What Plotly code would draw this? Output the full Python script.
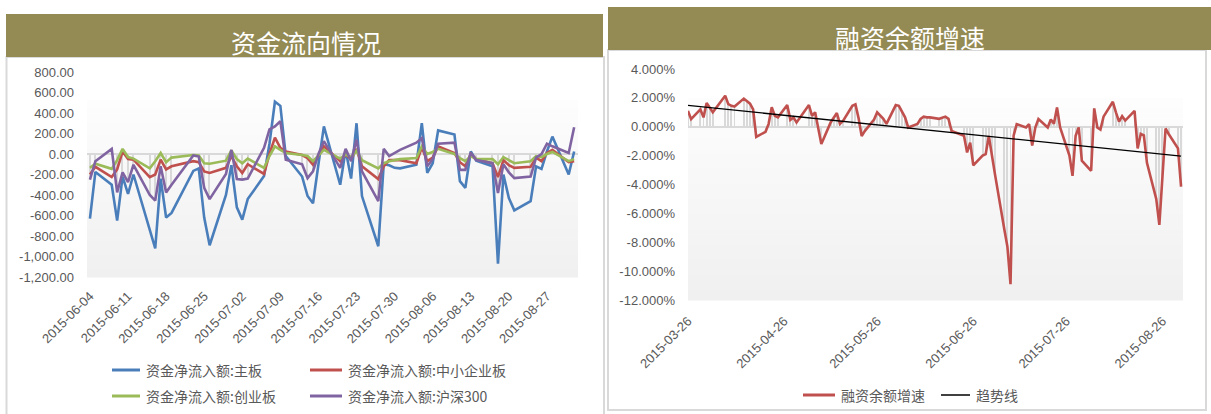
import plotly.graph_objects as go

# ---------------- data: left chart (资金流向情况) ----------------
dates_left = [
    '2015-06-04', '2015-06-05', '2015-06-08', '2015-06-09', '2015-06-10', '2015-06-11', '2015-06-12',
    '2015-06-15', '2015-06-16', '2015-06-17', '2015-06-18', '2015-06-19',
    '2015-06-23', '2015-06-24', '2015-06-25', '2015-06-26',
    '2015-06-29', '2015-06-30', '2015-07-01', '2015-07-02', '2015-07-03',
    '2015-07-06', '2015-07-07', '2015-07-08', '2015-07-09', '2015-07-10',
    '2015-07-13', '2015-07-14', '2015-07-15', '2015-07-16', '2015-07-17',
    '2015-07-20', '2015-07-21', '2015-07-22', '2015-07-23', '2015-07-24',
    '2015-07-27', '2015-07-28', '2015-07-29', '2015-07-30', '2015-07-31',
    '2015-08-03', '2015-08-04', '2015-08-05', '2015-08-06', '2015-08-07',
    '2015-08-10', '2015-08-11', '2015-08-12', '2015-08-13', '2015-08-14',
    '2015-08-17', '2015-08-18', '2015-08-19', '2015-08-20', '2015-08-21',
    '2015-08-24', '2015-08-25', '2015-08-26', '2015-08-27', '2015-08-28',
    '2015-08-31', '2015-09-01']

main_board = [
    -630, -175, -300, -650, -220, -390, -200,
    -740, -920, -240, -620, -575,
    -165, -140, -620, -890,
    -400, -110, -520, -640, -440,
    -215, 100, 510, 470, -20,
    -220, -410, -480, -100, 270,
    -300, 40, -240, 300, -410,
    -900, -100, -110, -135, -140,
    -105, 300, -185, -90, 230,
    190, -265, -330, 25, -65,
    -120, -1070, -200, -430, -550,
    -460, -120, -145, 25, 170,
    -200, 25]

sme_board = [
    -200, -125, -225, -150, 25, -50, -55,
    -225, -200, -55, -150, -120,
    -70, -80, -170, -185,
    -135, -20, -120, -185, -100,
    -195, 0, 160, 60, 25,
    -10, -40, -105, -10, 75,
    -70, -5, -50, 50, -120,
    -245, -120, -60, -60, -60,
    -90, 65, -70, -35, 75,
    10, -80, -120, 0, -50,
    -90, -225, -60, -110, -135,
    -125, -35, -70, 10, 40,
    -80, -70]

gem_board = [
    -135, -95, -145, -60, 50, -30, -45,
    -140, -70, 10, -80, -35,
    -10, -15, -90, -95,
    -65, 35, -50, -90, -45,
    -135, -20, 75, 40, 10,
    -10, -20, -70, -10, 40,
    -45, -5, -30, 30, -60,
    -140, -90, -70, -60, -50,
    -40, 75, 0, 20, 50,
    0, -40, -70, -20, -50,
    -50, -100, -30, -60, -90,
    -70, -20, -30, 0, 20,
    -70, -50]

hs300 = [
    -250, -70, 50, -375, -180, -275, -105,
    -400, -455, -120, -375, -300,
    -15, -25, -330, -440,
    -195, 40, -245, -250, -240,
    60, 240, 270, 320, -55,
    -100, -235, -170, 0, 125,
    -135, 50, -70, 140, -170,
    -460, 50, -20, 10, 40,
    110, 155, -120, -50, 100,
    110, -155, -155, 10, -60,
    -90, -380, -100, -180, -235,
    -220, -35, 0, 100, 75,
    10, 260]

# faint grey columns in the background of the left chart
grey_left = [
    -250, -70, 0, -375, -180, -275, -105,
    -400, -455, -120, -375, -300,
    -15, -25, -330, -440,
    -195, 0, -245, -250, -240,
    0, 0, 0, 0, -55,
    -100, -235, -170, 0, 0,
    -135, 0, -70, 0, -170,
    -460, 0, -20, 0, 0,
    0, 0, -120, -50, 0,
    0, -155, -155, 0, -60,
    -90, -380, -100, -180, -235,
    -220, -35, 0, 0, 0,
    0, 0]

left_tick_dates = ['2015-06-04', '2015-06-11', '2015-06-18', '2015-06-25', '2015-07-02',
                   '2015-07-09', '2015-07-16', '2015-07-23', '2015-07-30', '2015-08-06',
                   '2015-08-13', '2015-08-20', '2015-08-27']
left_tick_labels = left_tick_dates
left_y_vals = [800, 600, 400, 200, 0, -200, -400, -600, -800, -1000, -1200]
left_y_text = ['800.00', '600.00', '400.00', '200.00', '0.00', '-200.00', '-400.00',
               '-600.00', '-800.00', '-1,000.00', '-1,200.00']
left_names = ['资金净流入额:主板', '资金净流入额:中小企业板', '资金净流入额:创业板', '资金净流入额:沪深300']

# ---------------- data: right chart (融资余额增速) ----------------
dates_right = [
    '2015-03-26', '2015-03-27', '2015-03-30', '2015-03-31',
    '2015-04-01', '2015-04-02', '2015-04-03', '2015-04-07', '2015-04-08', '2015-04-09', '2015-04-10',
    '2015-04-13', '2015-04-14', '2015-04-15', '2015-04-16', '2015-04-17',
    '2015-04-20', '2015-04-21', '2015-04-22', '2015-04-23', '2015-04-24',
    '2015-04-27', '2015-04-28', '2015-04-29', '2015-04-30',
    '2015-05-04', '2015-05-05', '2015-05-06', '2015-05-07', '2015-05-08',
    '2015-05-11', '2015-05-12', '2015-05-13', '2015-05-14', '2015-05-15',
    '2015-05-18', '2015-05-19', '2015-05-20', '2015-05-21', '2015-05-22',
    '2015-05-25', '2015-05-26', '2015-05-27', '2015-05-28', '2015-05-29',
    '2015-06-01', '2015-06-02', '2015-06-03', '2015-06-04', '2015-06-05',
    '2015-06-08', '2015-06-09', '2015-06-10', '2015-06-11', '2015-06-12',
    '2015-06-15', '2015-06-16', '2015-06-17', '2015-06-18', '2015-06-19',
    '2015-06-23', '2015-06-24', '2015-06-25', '2015-06-26',
    '2015-06-29', '2015-06-30', '2015-07-01', '2015-07-02', '2015-07-03',
    '2015-07-06', '2015-07-07', '2015-07-08', '2015-07-09', '2015-07-10',
    '2015-07-13', '2015-07-14', '2015-07-15', '2015-07-16', '2015-07-17',
    '2015-07-20', '2015-07-21', '2015-07-22', '2015-07-23', '2015-07-24',
    '2015-07-27', '2015-07-28', '2015-07-29', '2015-07-30', '2015-07-31',
    '2015-08-03', '2015-08-04', '2015-08-05', '2015-08-06', '2015-08-07',
    '2015-08-10', '2015-08-11', '2015-08-12', '2015-08-13', '2015-08-14',
    '2015-08-17', '2015-08-18', '2015-08-19', '2015-08-20', '2015-08-21',
    '2015-08-24', '2015-08-25', '2015-08-26', '2015-08-27', '2015-08-28',
    '2015-08-31', '2015-09-01']

margin_growth = [
    1.10, 0.53, 1.20, 0.65,
    1.65, 1.30, 1.00, 2.15, 1.57, 1.45, 1.40,
    1.95, 1.80, 1.60, 1.20, -0.70,
    -0.35, 0.20, 1.35, 0.75, 0.65,
    1.50, 0.48, 0.65, 0.30,
    1.50, 0.75, 1.00, -0.10, -1.20,
    0.30, 0.65, 0.95, 0.20, 0.40,
    1.45, 1.55, 0.60, -0.65, -0.30,
    0.50, 1.00, 0.75, 0.55, 0.20,
    1.50, 1.45, 1.00, 0.65, -0.05,
    0.20, 0.55, 0.70, 0.65, 0.65,
    0.55, 0.60, 0.70, 0.55, -0.30,
    -0.62, -1.78, -1.10, -2.67,
    -2.00, -1.90, -0.64, -2.00, -3.30,
    -7.10, -8.30, -10.90, -0.62, 0.18,
    -0.05, 0.18, -1.30, -0.05, 0.53,
    -0.05, 0.50, 0.20, 1.34, -0.05,
    -2.00, -3.40, -0.62, -0.05, -2.35,
    -3.05, 1.27, -0.05, -0.20, 0.70,
    1.73, 1.00, 0.35, 0.73, 0.43,
    1.10, -1.50, -0.50, -0.60, -2.50,
    -5.00, -6.80, -3.50, -0.12, -0.50,
    -1.50, -4.15]

trend_dates = ['2015-03-26', '2015-09-01']
trend_values = [1.48, -2.03]

right_tick_dates = ['2015-03-26', '2015-04-26', '2015-05-26', '2015-06-26', '2015-07-26', '2015-08-26']
right_tick_labels = right_tick_dates
right_y_vals = [4, 2, 0, -2, -4, -6, -8, -10, -12]
right_y_text = ['4.000%', '2.000%', '0.000%', '-2.000%', '-4.000%', '-6.000%', '-8.000%',
                '-10.000%', '-12.000%']
right_names = ['融资余额增速', '趋势线']

titles = ['资金流向情况', '融资余额增速']

# ---------------- styling ----------------
W, H = 1211, 414
def px(x):
    return x / W
def py(y):
    return 1 - y / H

BLUE, RED, GREEN, PURPLE = '#4A7EBB', '#C0504D', '#9BBB59', '#8064A2'
OLIVE = '#948A54'
TXT = '#595959'
NUMFONT = 'Liberation Sans, Arial, sans-serif'
CJK = 'Noto Sans CJK SC, sans-serif'
DAY_MS = 86400000

fig = go.Figure()

# left chart
fig.add_trace(go.Bar(x=dates_left, y=grey_left, width=0.25 * DAY_MS, marker=dict(color='#D9D9D9', line=dict(width=0)),
                     xaxis='x', yaxis='y', showlegend=False, hoverinfo='skip'))
for vals, col, name in zip([main_board, sme_board, gem_board, hs300], [BLUE, RED, GREEN, PURPLE], left_names):
    fig.add_trace(go.Scatter(x=dates_left, y=vals, mode='lines', name=name,
                             line=dict(color=col, width=2.6), xaxis='x', yaxis='y', showlegend=False))

# right chart
fig.add_trace(go.Bar(x=dates_right, y=margin_growth, width=0.3 * DAY_MS, marker=dict(color='#D9D9D9', line=dict(width=0)),
                     xaxis='x2', yaxis='y2', showlegend=False, hoverinfo='skip'))
fig.add_trace(go.Scatter(x=dates_right, y=margin_growth, mode='lines', name=right_names[0],
                         line=dict(color=RED, width=2.6), xaxis='x2', yaxis='y2', showlegend=False))
fig.add_trace(go.Scatter(x=trend_dates, y=trend_values, mode='lines', name=right_names[1],
                         line=dict(color='#000000', width=1.3), xaxis='x2', yaxis='y2', showlegend=False))

shapes = []
annotations = []

# panel frames
shapes.append(dict(type='rect', xref='paper', yref='paper', x0=px(6.5), x1=px(604), y0=py(420), y1=py(57),
                   line=dict(color='#D9D9D9', width=2), fillcolor='white', layer='below'))
shapes.append(dict(type='rect', xref='paper', yref='paper', x0=px(608), x1=px(1206), y0=py(410), y1=py(50),
                   line=dict(color='#D9D9D9', width=2), fillcolor='white', layer='below'))

# gradient plot backgrounds
def gradient(x0, x1, ytop, ybot, n=40, c0=(253, 253, 253), c1=(240, 240, 240)):
    h = (ybot - ytop) / n
    for i in range(n):
        t = i / (n - 1)
        c = tuple(int(round(c0[k] + (c1[k] - c0[k]) * t)) for k in range(3))
        shapes.append(dict(type='rect', xref='paper', yref='paper', x0=px(x0), x1=px(x1),
                           y0=py(ytop + (i + 1) * h + 0.5), y1=py(ytop + i * h),
                           line=dict(width=0), fillcolor='rgb(%d,%d,%d)' % c, layer='below'))

gradient(87, 578, 100, 277)
gradient(688, 1183, 98, 300)

# title bars
shapes.append(dict(type='rect', xref='paper', yref='paper', x0=px(6), x1=px(603), y0=py(57), y1=py(14),
                   line=dict(width=0), fillcolor=OLIVE))
shapes.append(dict(type='rect', xref='paper', yref='paper', x0=px(608), x1=px(1211), y0=py(50), y1=py(7),
                   line=dict(width=0), fillcolor=OLIVE))
annotations.append(dict(text=titles[0], xref='paper', yref='paper', x=px(306), y=py(42),
                        showarrow=False, xanchor='center', yanchor='middle',
                        font=dict(family=CJK, size=25, color='white')))
annotations.append(dict(text=titles[1], xref='paper', yref='paper', x=px(910), y=py(37),
                        showarrow=False, xanchor='center', yanchor='middle',
                        font=dict(family=CJK, size=25, color='white')))

# legends (drawn manually to match layout)
def legend_item(x_line0, x_line1, y, color, text, lw=3):
    shapes.append(dict(type='line', xref='paper', yref='paper', x0=px(x_line0), x1=px(x_line1),
                       y0=py(y), y1=py(y), line=dict(color=color, width=lw)))
    annotations.append(dict(text=text, xref='paper', yref='paper', x=px(x_line1 + 4), y=py(y),
                            showarrow=False, xanchor='left', yanchor='middle',
                            font=dict(family=CJK, size=14, color=TXT)))

legend_item(112, 140, 370, BLUE, left_names[0])
legend_item(310, 342, 370, RED, left_names[1])
legend_item(112, 140, 396, GREEN, left_names[2])
legend_item(310, 342, 396, PURPLE, left_names[3])
legend_item(803, 835, 395, RED, right_names[0])
legend_item(941, 970, 395, '#404040', right_names[1], lw=2)

tickfont = dict(family=NUMFONT, size=13, color=TXT)

fig.update_layout(
    template='none',
    width=W, height=H,
    margin=dict(l=0, r=0, t=0, b=0, pad=0, autoexpand=False),
    paper_bgcolor='white', plot_bgcolor='rgba(0,0,0,0)',
    showlegend=False,
    bargap=0,
    shapes=shapes,
    annotations=annotations,
    xaxis=dict(domain=[px(87), px(578)], anchor='y', type='date', automargin=False,
               range=['2015-06-03 11:00', '2015-09-01 17:00'],
               tickmode='array', tickvals=left_tick_dates, ticktext=left_tick_labels,
               tickangle=-45, showgrid=False, zeroline=False, showline=False, ticks='',
               tickfont=tickfont, ticklabelstandoff=8),
    yaxis=dict(domain=[py(277), py(72)], anchor='x', range=[-1200, 800], automargin=False,
               tickmode='array', tickvals=left_y_vals, ticktext=left_y_text,
               showgrid=False, zeroline=True, zerolinecolor='#D9D9D9', zerolinewidth=1.5,
               showline=False, ticks='', tickfont=tickfont, ticklabelstandoff=12),
    xaxis2=dict(domain=[px(688), px(1183)], anchor='y2', type='date', automargin=False,
                range=['2015-03-26', '2015-09-01 15:00'],
                tickmode='array', tickvals=right_tick_dates, ticktext=right_tick_labels,
                tickangle=-45, showgrid=False, zeroline=False, showline=False, ticks='',
                tickfont=tickfont, ticklabelstandoff=10),
    yaxis2=dict(domain=[py(300), py(69)], anchor='x2', range=[-12, 4], automargin=False,
                tickmode='array', tickvals=right_y_vals, ticktext=right_y_text,
                showgrid=False, zeroline=True, zerolinecolor='#D9D9D9', zerolinewidth=1.5,
                showline=False, ticks='', tickfont=tickfont, ticklabelstandoff=12),
)

fig.write_html('out.html', config={'displayModeBar': False},
               post_script="document.body.style.margin='0';document.body.style.overflow='hidden';")
